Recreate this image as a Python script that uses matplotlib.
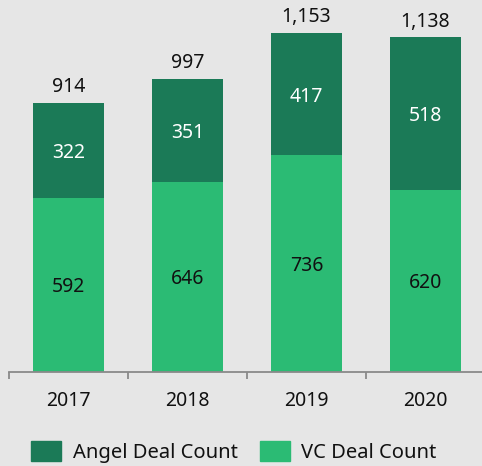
import matplotlib
matplotlib.use("Agg")
import matplotlib.pyplot as plt
from matplotlib.patches import Patch

years = ["2017", "2018", "2019", "2020"]
vc_counts = [592, 646, 736, 620]
angel_counts = [322, 351, 417, 518]
totals = [914, 997, 1153, 1138]

BG = "#e6e6e6"
DARK = "#1b7a57"
LIGHT = "#2bbb74"
TXT = "#111111"

plt.rcParams['font.family'] = ['Noto Sans', 'DejaVu Sans']

fig = plt.figure(figsize=(4.82, 4.66), dpi=100, facecolor=BG)
ax = fig.add_axes([9/482, (466-372)/466, 476/482, 1250*0.2943/466])
ax.set_facecolor(BG)

x = list(range(len(years)))
w = 0.605
ax.bar(x, vc_counts, width=w, color=LIGHT, label="VC Deal Count")
ax.bar(x, angel_counts, width=w, bottom=vc_counts, color=DARK, label="Angel Deal Count")

FS = 14
for i in x:
    ax.text(i, vc_counts[i] / 2, str(vc_counts[i]), ha="center", va="center_baseline",
            color=TXT, fontsize=FS)
    ax.text(i, vc_counts[i] + angel_counts[i] / 2, str(angel_counts[i]), ha="center",
            va="center_baseline", color="white", fontsize=FS)
    ax.annotate(f"{totals[i]:,}", (i, totals[i]), xytext=(0, 4), textcoords="offset points",
                ha="center", va="bottom", fontsize=FS, color=TXT, annotation_clip=False)

ax.set_xlim(-0.5, 3.5)
ax.set_ylim(0, 1250)
ax.set_yticks([])
for s in ["top", "right", "left"]:
    ax.spines[s].set_visible(False)
ax.spines["bottom"].set_color("#8a8a8a")
ax.spines["bottom"].set_linewidth(1.3)

ax.set_xticks([-0.5, 0.5, 1.5, 2.5, 3.5])
ax.set_xticklabels([])
ax.set_xticks(x, minor=True)
ax.set_xticklabels(years, minor=True, fontsize=FS, color=TXT)
ax.tick_params(axis="x", which="major", length=5, width=1.3, color="#8a8a8a", direction="out")
ax.tick_params(axis="x", which="minor", length=0, pad=14)

handles = [Patch(color=DARK, label="Angel Deal Count"), Patch(color=LIGHT, label="VC Deal Count")]
fig.legend(handles=handles, loc="center", bbox_to_anchor=(0.485, (466-452)/466), ncol=2,
           frameon=False, fontsize=14.5, handlelength=1.5, handleheight=1.1,
           handletextpad=0.55, columnspacing=1.1, labelcolor=TXT, borderaxespad=0)

fig.savefig("out.png", dpi=100, facecolor=BG)
